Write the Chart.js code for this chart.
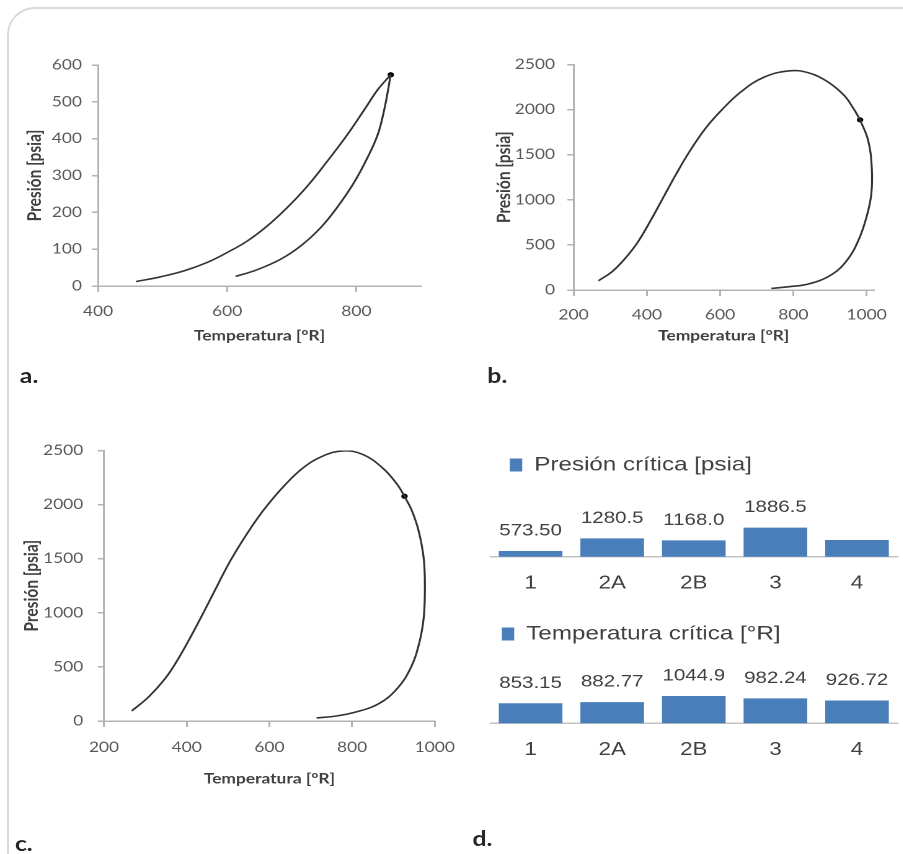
<!DOCTYPE html>
<html lang="es">
<head>
<meta charset="utf-8">
<title>Envolventes de fase</title>
<script src="https://cdn.jsdelivr.net/npm/chart.js@4.4.1/dist/chart.umd.min.js"></script>
<style>
  html, body { margin: 0; padding: 0; background: #fff; }
  body { width: 903px; height: 854px; overflow: hidden; position: relative; }
  #frame {
    position: absolute; left: 7px; top: 7px; width: 940px; height: 900px;
    border: 2px solid #d9d9d9; border-radius: 28px;
  }
  /* every panel is drawn narrow and widened as a whole */
  #stage {
    position: absolute; left: 0; top: 0; width: 729px; height: 854px;
    transform: scaleX(1.24); transform-origin: 0 0;
  }
  #stage canvas { position: absolute; }
  .tag { position: absolute; font: bold 20px Lato, sans-serif; line-height: 20px; color: #262626; }
</style>
</head>
<body>
<div id="frame"></div>
<div id="stage">
  <canvas id="chartA"></canvas>
  <canvas id="chartB"></canvas>
  <canvas id="chartC"></canvas>
  <canvas id="chartPc"></canvas>
  <canvas id="chartTc"></canvas>
  <div class="tag" style="left:16px; top:365px">a.</div>
  <div class="tag" style="left:393px; top:365px">b.</div>
  <div class="tag" style="left:12px; top:833px">c.</div>
  <div class="tag" style="left:381px; top:828px">d.</div>
</div>

<script>
// ----- Data -----
// Sample 1 phase envelope (a)
const bubbleAT = [459, 497, 533, 569, 600, 631, 662, 693, 724, 755, 786, 812, 833, 853.15];
const bubbleAP = [12, 25, 41, 64, 91, 122, 163, 213, 271, 339, 411, 478, 533, 573.5];
const dewAT = [613, 646, 683, 714, 745, 770, 796, 817, 833, 843, 849, 851.5, 853.15];
const dewAP = [26, 44, 73, 109, 159, 213, 280, 348, 411, 478, 532, 558, 573.5];
const critA = [853.15, 573.5];
const tempTicksA = [400, 600, 800];
const presTicksA = [0, 100, 200, 300, 400, 500, 600];

// Sample 3 phase envelope (b)
const bubbleBT = [268, 305, 341, 376, 411, 446, 481, 516, 560, 604, 657, 718, 789, 841, 894, 938, 964, 982.24];
const bubbleBP = [103, 203, 351, 535, 775, 1034, 1292, 1532, 1791, 1994, 2197, 2356, 2430, 2408, 2308, 2160, 2013, 1886.5];
const dewBT = [982.24, 1004, 1014, 1013, 1000, 978, 947, 903, 841, 789, 740];
const dewBP = [1886.5, 1662, 1366, 1071, 812, 554, 332, 166, 66, 37, 18];
const critB = [982.24, 1886.5];
const tempTicksB = [200, 400, 600, 800, 1000];
const presTicksB = [0, 500, 1000, 1500, 2000, 2500];

// Sample 4 phase envelope (c)
const bubbleCT = [267, 308, 348, 380, 412, 444, 475, 507, 547, 587, 635, 682, 730, 778, 825, 873, 909, 926.72];
const bubbleCP = [93, 223, 393, 578, 795, 1027, 1259, 1491, 1738, 1955, 2171, 2341, 2450, 2496, 2465, 2341, 2187, 2077];
const dewCT = [926.72, 945, 961, 973, 976, 973, 961, 941, 909, 865, 810, 762, 714];
const dewCP = [2077, 1939, 1754, 1506, 1259, 950, 702, 486, 300, 161, 84, 46, 28];
const critC = [926.72, 2077];
const tempTicksC = [200, 400, 600, 800, 1000];
const presTicksC = [0, 500, 1000, 1500, 2000, 2500];

// Critical properties per sample (d)
const samples = ['1', '2A', '2B', '3', '4'];
const criticalPressure = [573.5, 1280.5, 1168.0, 1886.5, 1190];
const pressureLabelShown = [true, true, true, true, false];
const criticalTemperature = [853.15, 882.77, 1044.9, 982.24, 926.72];
const temperatureLabelShown = [true, true, true, true, true];

// ----- Styling -----
const STRETCH = 1.24;
const AXIS = '#b3b3b3';
const CURVE = '#333333';
const BLUE = '#4a7ebb';
const SANS = 'Lato, "Open Sans", sans-serif';
const ARIAL = '"Liberation Sans", Arial, sans-serif';

function toPoints(xs, ys) {
  return xs.map((x, i) => ({ x, y: ys[i] }));
}

// Fixed tick list instead of the generated one
function fixedTicks(values) {
  return scale => { scale.ticks = values.map(v => ({ value: v })); };
}

// ----- P-T envelope panels -----
function envelopeChart(id, box, axes, series) {
  const S = STRETCH;
  const canvas = document.getElementById(id);
  const w = Math.round(box.width / S);
  canvas.width = w;
  canvas.height = box.height;
  canvas.style.left = (box.left / S) + 'px';
  canvas.style.top = box.top + 'px';

  const areaLeft = (box.area.left - box.left) / S;
  const areaRight = (box.area.right - box.left) / S;
  const areaTop = box.area.top - box.top;
  const areaBottom = box.area.bottom - box.top;

  const tickSize = 14, titleSize = 14, yTitleSize = 15.5;
  const yTickLen = 5, xTickLen = 6;

  new Chart(canvas, {
    type: 'scatter',
    data: {
      datasets: [
        { data: toPoints(series.bubbleT, series.bubbleP), showLine: true, tension: 0.4,
          borderColor: CURVE, borderWidth: 1.6, pointRadius: 0 },
        { data: toPoints(series.dewT, series.dewP), showLine: true, tension: 0.4,
          borderColor: CURVE, borderWidth: 1.6, pointRadius: 0 },
        { data: [{ x: series.crit[0], y: series.crit[1] }], showLine: false,
          pointRadius: 2.6, pointBackgroundColor: '#000', pointBorderWidth: 0 }
      ]
    },
    options: {
      responsive: false,
      animation: false,
      devicePixelRatio: 2,
      events: [],
      layout: { padding: { left: 0, top: areaTop, right: w - areaRight, bottom: 0 } },
      plugins: { legend: { display: false }, tooltip: { enabled: false } },
      scales: {
        x: {
          type: 'linear',
          min: axes.x.min, max: axes.x.max,
          afterBuildTicks: fixedTicks(axes.x.ticks),
          afterFit: s => { s.height = box.height - areaBottom; },
          ticks: {
            maxRotation: 0, autoSkip: false,
            callback: v => String(v),
            color: '#595959', font: { family: SANS, size: tickSize },
            padding: (box.xLabelY - box.area.bottom) - xTickLen - tickSize * 0.6
          },
          grid: { drawOnChartArea: false, drawTicks: true, tickLength: xTickLen, color: AXIS, lineWidth: 1.5 },
          border: { color: AXIS, width: 1.5 },
          title: {
            display: true, text: 'Temperatura [°R]', color: '#404040',
            font: { family: SANS, size: titleSize, weight: 'bold' },
            padding: { top: 0, bottom: box.height - (box.xTitleY - box.top) - titleSize * 0.6 }
          }
        },
        y: {
          min: axes.y.min, max: axes.y.max,
          afterBuildTicks: fixedTicks(axes.y.ticks),
          afterFit: s => { s.width = areaLeft; },
          ticks: {
            autoSkip: false,
            callback: v => String(v),
            color: '#595959', font: { family: SANS, size: tickSize },
            padding: areaLeft - yTickLen - (box.yLabelRight - box.left) / S
          },
          grid: { drawOnChartArea: false, drawTicks: true, tickLength: yTickLen, color: AXIS, lineWidth: 1.5 },
          border: { color: AXIS, width: 1.5 },
          title: {
            display: true, text: 'Presión [psia]', color: '#404040',
            font: { family: SANS, size: yTitleSize, weight: 'bold' },
            padding: { top: (box.yTitleX - box.left) / S - yTitleSize * 0.6, bottom: 0 }
          }
        }
      }
    }
  });
}

// Value above each bar, five significant digits like the sheet shows
const valueLabels = {
  id: 'valueLabels',
  afterDatasetsDraw(chart, args, opts) {
    const { ctx } = chart;
    const values = chart.data.datasets[0].data;
    ctx.save();
    ctx.font = '16.5px ' + ARIAL;
    ctx.fillStyle = '#404040';
    ctx.textAlign = 'center';
    ctx.textBaseline = 'middle';
    chart.getDatasetMeta(0).data.forEach((bar, i) => {
      if (!opts.shown[i]) return;
      ctx.fillText(values[i].toPrecision(5), bar.x, bar.y - 20);
    });
    ctx.restore();
  }
};

// ----- Critical property bars -----
function criticalBars(id, box, label, values, shown, yRange) {
  const S = STRETCH;
  const canvas = document.getElementById(id);
  const w = Math.round(box.width / S);
  canvas.width = w;
  canvas.height = box.height;
  canvas.style.left = (box.left / S) + 'px';
  canvas.style.top = box.top + 'px';

  const legendSize = 19.5, catSize = 18;
  const legendPad = (box.legendLeft - box.left) / S;
  const legendTop = box.legendY - legendPad - legendSize / 2;

  new Chart(canvas, {
    type: 'bar',
    data: {
      labels: samples,
      datasets: [{
        label,
        data: values,
        backgroundColor: BLUE,
        borderWidth: 0,
        barPercentage: 0.78,
        categoryPercentage: 1
      }]
    },
    plugins: [valueLabels],
    options: {
      responsive: false,
      animation: false,
      devicePixelRatio: 2,
      events: [],
      layout: { padding: { left: 0, top: legendTop - box.top, right: w - (box.areaRight - box.left) / S, bottom: 0 } },
      plugins: {
        tooltip: { enabled: false },
        valueLabels: { shown },
        legend: {
          display: true, position: 'top', align: 'start',
          labels: {
            boxWidth: 10, boxHeight: 13, padding: legendPad,
            color: '#404040', font: { family: ARIAL, size: legendSize }
          }
        }
      },
      scales: {
        x: {
          afterFit: s => { s.height = box.height - (box.baseline - box.top); },
          grid: { display: false, drawTicks: false },
          border: { display: true, color: '#c4c4c4', width: 1.5 },
          ticks: {
            color: '#404040', font: { family: ARIAL, size: catSize },
            padding: (box.catY - box.baseline) - catSize * 0.6
          }
        },
        y: { display: false, min: yRange.min, max: yRange.max }
      }
    }
  });
}

function build() {
  envelopeChart('chartA',
    { left: 0, top: 40, width: 450, height: 320,
      area: { left: 98, right: 421, top: 65, bottom: 286 },
      yTitleX: 34.5, yLabelRight: 82, xLabelY: 311.5, xTitleY: 336 },
    { x: { min: 400, max: 900, ticks: tempTicksA }, y: { min: 0, max: 600, ticks: presTicksA } },
    { bubbleT: bubbleAT, bubbleP: bubbleAP, dewT: dewAT, dewP: dewAP, crit: critA });

  envelopeChart('chartB',
    { left: 455, top: 40, width: 445, height: 320,
      area: { left: 573.5, right: 885, top: 64.5, bottom: 290 },
      yTitleX: 504, yLabelRight: 555, xLabelY: 315, xTitleY: 336 },
    { x: { min: 200, max: 1020, ticks: tempTicksB }, y: { min: 0, max: 2500, ticks: presTicksB } },
    { bubbleT: bubbleBT, bubbleP: bubbleBP, dewT: dewBT, dewP: dewBP, crit: critB });

  envelopeChart('chartC',
    { left: 0, top: 420, width: 470, height: 400,
      area: { left: 104, right: 440, top: 450.5, bottom: 721 },
      yTitleX: 31.7, yLabelRight: 83.3, xLabelY: 747.5, xTitleY: 779 },
    { x: { min: 200, max: 1000, ticks: tempTicksC }, y: { min: 0, max: 2500, ticks: presTicksC } },
    { bubbleT: bubbleCT, bubbleP: bubbleCP, dewT: dewCT, dewP: dewCP, crit: critC });

  criticalBars('chartPc',
    { left: 490, top: 430, width: 410, height: 170, areaRight: 898,
      baseline: 556.7, catY: 583.3, legendLeft: 510, legendY: 465 },
    'Presión crítica [psia]', criticalPressure, pressureLabelShown, { min: 250, max: 4300 });

  criticalBars('chartTc',
    { left: 490, top: 604, width: 410, height: 166, areaRight: 898,
      baseline: 723.3, catY: 750, legendLeft: 502, legendY: 634 },
    'Temperatura crítica [°R]', criticalTemperature, temperatureLabelShown, { min: 330, max: 2150 });
}

window.onload = function() {
  const fontLoads = document.fonts
    ? Promise.all([
        document.fonts.load('14px Lato'),
        document.fonts.load('bold 14px Lato'),
        document.fonts.load('18px "Liberation Sans"')
      ]).catch(() => null)
    : Promise.resolve();
  fontLoads.then(build);
};
</script>
</body>
</html>
